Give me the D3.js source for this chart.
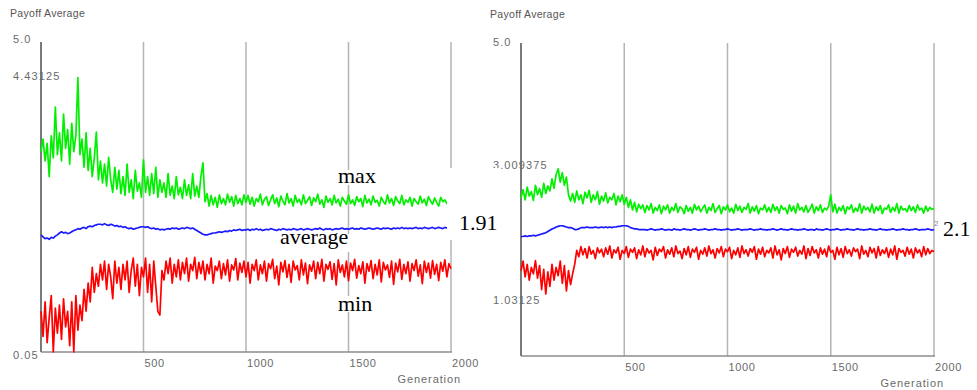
<!DOCTYPE html>
<html>
<head>
<meta charset="utf-8">
<script src="https://cdn.jsdelivr.net/npm/d3@7"></script>
<style>
  body { margin: 0; background: #fff; }
  svg { display: block; }
</style>
</head>
<body>
<svg id="chart" width="977" height="390"></svg>
<script>
// generations 0..2000, one sample every 10
const generations = d3.range(0, 2001, 10);
const xTicks = [500, 1000, 1500, 2000];

// left run
const leftMax = [
  3.25, 3.45, 3.10, 3.38, 2.85, 3.50, 3.15, 3.96, 3.20, 3.55,
  3.10, 3.85, 3.30, 3.60, 3.05, 3.70, 3.25, 3.50, 4.43, 3.20,
  3.45, 3.00, 3.55, 2.95, 3.30, 2.85, 3.15, 3.56, 2.80, 3.10,
  2.75, 3.05, 2.70, 3.16, 2.80, 2.60, 3.00, 2.65, 2.95, 2.58,
  2.85, 2.55, 3.05, 2.60, 2.80, 2.50, 2.95, 2.62, 2.75, 2.52,
  3.12, 2.60, 2.85, 2.55, 2.90, 2.58, 3.00, 2.52, 2.80, 2.60,
  2.75, 2.52, 2.90, 2.55, 2.70, 2.50, 2.85, 2.56, 2.68, 2.50,
  2.80, 2.55, 2.72, 2.50, 2.90, 2.54, 2.70, 2.52, 2.85, 3.07,
  2.45, 2.58, 2.38, 2.55, 2.40, 2.52, 2.36, 2.56, 2.42, 2.50,
  2.40, 2.57, 2.44, 2.53, 2.38, 2.55, 2.42, 2.50, 2.40, 2.56,
  2.44, 2.55, 2.41, 2.52, 2.38, 2.50, 2.45, 2.57, 2.40, 2.49,
  2.53, 2.39, 2.48, 2.56, 2.42, 2.51, 2.37, 2.54, 2.46, 2.40,
  2.58, 2.43, 2.50, 2.38, 2.55, 2.44, 2.49, 2.40, 2.56, 2.42,
  2.47, 2.53, 2.39, 2.51, 2.45, 2.57, 2.41, 2.48, 2.36, 2.54,
  2.44, 2.50, 2.40, 2.55, 2.43, 2.49, 2.38, 2.52, 2.46, 2.41,
  2.56, 2.42, 2.48, 2.39, 2.53, 2.45, 2.50, 2.37, 2.55, 2.43,
  2.49, 2.40, 2.54, 2.44, 2.47, 2.38, 2.52, 2.45, 2.41, 2.56,
  2.43, 2.50, 2.39, 2.53, 2.46, 2.42, 2.55, 2.40, 2.48, 2.44,
  2.52, 2.38, 2.50, 2.45, 2.41, 2.54, 2.43, 2.49, 2.39, 2.53,
  2.46, 2.41, 2.51, 2.44, 2.38, 2.52, 2.45, 2.48, 2.42, 2.50,
  2.46
];
const leftAvg = [
  1.92, 1.89, 1.86, 1.87, 1.85, 1.88, 1.87, 1.90, 1.92, 1.95,
  1.97, 1.95, 1.96, 1.94, 1.95, 1.97, 1.99, 2.00, 2.02, 2.01,
  2.03, 2.04, 2.02, 2.05, 2.06, 2.05, 2.07, 2.08, 2.09, 2.09,
  2.08, 2.10, 2.08, 2.07, 2.09, 2.08, 2.06, 2.07, 2.05, 2.06,
  2.04, 2.05, 2.03, 2.02, 2.03, 2.01, 2.02, 2.03, 2.04, 2.05,
  2.05, 2.04, 2.05, 2.03, 2.02, 2.03, 2.01, 2.02, 2.00, 2.01,
  2.00, 2.01, 2.02, 2.01, 2.03, 2.02, 2.03, 2.01, 2.02, 2.03,
  2.02, 2.04, 2.03, 2.02, 2.03, 2.01, 1.99, 1.97, 1.95, 1.93,
  1.92, 1.92, 1.93, 1.94, 1.95, 1.95, 1.96, 1.97, 1.96, 1.97,
  1.98, 1.97, 1.99, 1.98, 2.00, 1.99, 2.00, 2.01, 1.99, 2.00,
  2.00, 2.01, 1.99, 2.01, 2.00, 2.02, 2.00, 2.01, 1.99, 2.00,
  2.01, 2.00, 2.02, 2.01, 2.00, 1.99, 2.01, 2.00, 2.02, 2.01,
  2.00, 2.01, 2.00, 2.02, 2.01, 2.00, 2.01, 2.02, 2.00, 2.01,
  2.02, 2.01, 2.00, 2.01, 2.02, 2.01, 2.03, 2.01, 2.00, 2.02,
  2.01, 2.02, 2.00, 2.01, 2.02, 2.01, 2.02, 2.03, 2.01, 2.02,
  2.01, 2.02, 2.03, 2.01, 2.02, 2.01, 2.03, 2.02, 2.01, 2.02,
  2.03, 2.02, 2.01, 2.02, 2.03, 2.02, 2.01, 2.03, 2.02, 2.03,
  2.02, 2.01, 2.03, 2.02, 2.03, 2.02, 2.04, 2.02, 2.03, 2.02,
  2.03, 2.02, 2.03, 2.04, 2.02, 2.03, 2.02, 2.04, 2.03, 2.02,
  2.03, 2.04, 2.02, 2.03, 2.04, 2.03, 2.02, 2.04, 2.03, 2.04,
  2.03
];
const leftMin = [
  0.70, 0.30, 0.85, 0.20, 0.60, 0.95, 0.05, 0.75, 0.35, 0.80,
  0.25, 0.90, 0.45, 0.70, 0.15, 0.85, 0.05, 0.95, 0.40, 0.80,
  0.55, 1.05, 0.70, 1.15, 0.85, 1.40, 1.00, 1.30, 1.10, 1.45,
  1.20, 1.50, 1.05, 1.45, 1.25, 0.90, 1.50, 1.15, 1.40, 1.05,
  1.45, 1.20, 1.50, 1.00, 1.35, 1.55, 1.10, 1.45, 0.95, 1.40,
  1.25, 1.55, 1.00, 1.45, 0.85, 1.50, 1.10, 0.70, 0.64, 1.35,
  1.20, 1.50, 1.30, 1.55, 1.15, 1.45, 1.25, 1.52, 1.20, 1.48,
  1.30, 1.55, 1.18, 1.45, 1.35, 1.56, 1.22, 1.48, 1.30, 1.50,
  1.20, 1.45, 1.30, 1.55, 1.15, 1.42, 1.35, 1.50, 1.22, 1.46,
  1.28, 1.52, 1.18, 1.44, 1.36, 1.54, 1.20, 1.47, 1.32, 1.50,
  1.25, 1.48, 1.15, 1.45, 1.35, 1.52, 1.20, 1.44, 1.30, 1.50,
  1.18, 1.46, 1.38, 1.53, 1.22, 1.42, 1.12, 1.48, 1.33, 1.51,
  1.24, 1.45, 1.16, 1.50, 1.36, 1.43, 1.20, 1.52, 1.28, 1.47,
  1.14, 1.44, 1.34, 1.50, 1.22, 1.48, 1.30, 1.53, 1.18, 1.45,
  1.37, 1.49, 1.21, 1.46, 1.12, 1.52, 1.32, 1.44, 1.25, 1.50,
  1.19, 1.47, 1.35, 1.53, 1.23, 1.43, 1.30, 1.49, 1.15, 1.46,
  1.34, 1.51, 1.22, 1.45, 1.28, 1.52, 1.17, 1.48, 1.36, 1.44,
  1.24, 1.50, 1.13, 1.47, 1.33, 1.53, 1.21, 1.45, 1.30, 1.49,
  1.18, 1.46, 1.35, 1.52, 1.26, 1.44, 1.14, 1.50, 1.32, 1.47,
  1.23, 1.51, 1.29, 1.45, 1.19, 1.48, 1.34, 1.52, 1.25, 1.46,
  1.38
];

// right run
const rightMax = [
  2.55, 2.68, 2.52, 2.72, 2.58, 2.65, 2.51, 2.75, 2.60, 2.70,
  2.56, 2.78, 2.62, 2.74, 2.66, 2.85, 2.70, 2.92, 3.01, 2.80,
  2.95, 2.75, 2.88, 2.60, 2.50, 2.62, 2.48, 2.66, 2.52, 2.60,
  2.46, 2.64, 2.55, 2.67, 2.48, 2.60, 2.52, 2.65, 2.45, 2.58,
  2.50, 2.63, 2.47, 2.56, 2.52, 2.62, 2.44, 2.58, 2.49, 2.60,
  2.45, 2.56, 2.40, 2.52, 2.36, 2.48, 2.33, 2.45, 2.38, 2.44,
  2.32, 2.43, 2.36, 2.46, 2.31, 2.40, 2.35, 2.44, 2.30, 2.42,
  2.36, 2.44, 2.31, 2.40, 2.35, 2.46, 2.32, 2.41, 2.38, 2.30,
  2.43, 2.34, 2.40, 2.31, 2.45, 2.36, 2.42, 2.33, 2.39, 2.44,
  2.31, 2.40, 2.35, 2.46, 2.32, 2.38, 2.43, 2.30, 2.41, 2.36,
  2.44, 2.33, 2.39, 2.31, 2.45, 2.35, 2.42, 2.32, 2.40, 2.37,
  2.46, 2.31, 2.41, 2.34, 2.43, 2.30, 2.39, 2.36, 2.44, 2.33,
  2.40, 2.32, 2.45, 2.35, 2.41, 2.31, 2.43, 2.37, 2.39, 2.30,
  2.44, 2.34, 2.42, 2.31, 2.46, 2.36, 2.40, 2.33, 2.43, 2.32,
  2.38, 2.45, 2.31, 2.41, 2.35, 2.44, 2.32, 2.39, 2.36, 2.42,
  2.60, 2.33, 2.45, 2.31, 2.40, 2.35, 2.43, 2.30, 2.41, 2.37,
  2.44, 2.32, 2.39, 2.34, 2.46, 2.31, 2.42, 2.36, 2.40, 2.33,
  2.45, 2.31, 2.41, 2.35, 2.43, 2.30, 2.39, 2.37, 2.44, 2.32,
  2.40, 2.34, 2.46, 2.31, 2.42, 2.36, 2.38, 2.33, 2.43, 2.35,
  2.41, 2.32, 2.44, 2.36, 2.39, 2.31, 2.42, 2.34, 2.40, 2.37,
  2.38
];
const rightAvg = [
  1.94, 1.94, 1.95, 1.94, 1.95, 1.95, 1.96, 1.95, 1.96, 1.97,
  1.98, 1.99, 2.00, 2.02, 2.04, 2.06, 2.07, 2.09, 2.10, 2.11,
  2.11, 2.10, 2.09, 2.08, 2.08, 2.07, 2.05, 2.05, 2.06, 2.08,
  2.08, 2.08, 2.09, 2.08, 2.08, 2.08, 2.09, 2.08, 2.08, 2.09,
  2.08, 2.09, 2.08, 2.09, 2.08, 2.09, 2.09, 2.10, 2.10, 2.11,
  2.11, 2.11, 2.10, 2.08, 2.07, 2.06, 2.06, 2.05, 2.05, 2.05,
  2.05, 2.04, 2.05, 2.06, 2.05, 2.04, 2.05, 2.05, 2.06, 2.05,
  2.04, 2.05, 2.05, 2.04, 2.06, 2.05, 2.05, 2.04, 2.05, 2.06,
  2.05, 2.05, 2.04, 2.05, 2.06, 2.05, 2.04, 2.05, 2.05, 2.06,
  2.05, 2.04, 2.05, 2.05, 2.06, 2.05, 2.05, 2.04, 2.05, 2.05,
  2.06, 2.05, 2.04, 2.05, 2.05, 2.06, 2.05, 2.04, 2.05, 2.05,
  2.05, 2.06, 2.05, 2.04, 2.05, 2.05, 2.06, 2.05, 2.05, 2.04,
  2.05, 2.05, 2.06, 2.05, 2.04, 2.05, 2.06, 2.05, 2.05, 2.04,
  2.05, 2.06, 2.05, 2.05, 2.04, 2.05, 2.05, 2.06, 2.05, 2.04,
  2.05, 2.05, 2.04, 2.06, 2.05, 2.05, 2.04, 2.05, 2.06, 2.05,
  2.04, 2.05, 2.05, 2.06, 2.05, 2.04, 2.05, 2.05, 2.06, 2.05,
  2.05, 2.04, 2.05, 2.06, 2.05, 2.05, 2.04, 2.05, 2.05, 2.06,
  2.05, 2.05, 2.04, 2.05, 2.06, 2.05, 2.05, 2.04, 2.05, 2.05,
  2.06, 2.05, 2.04, 2.05, 2.05, 2.06, 2.05, 2.05, 2.04, 2.05,
  2.05, 2.06, 2.05, 2.04, 2.05, 2.05, 2.05, 2.06, 2.05, 2.04,
  2.05
];
const rightMin = [
  1.40, 1.55, 1.30, 1.50, 1.25, 1.45, 1.35, 1.56, 1.28, 1.48,
  1.10, 1.42, 1.03, 1.38, 1.15, 1.50, 1.25, 1.45, 1.32, 1.55,
  1.20, 1.48, 1.08, 1.40, 1.18, 1.35, 1.50, 1.72, 1.62, 1.78,
  1.65, 1.75, 1.60, 1.78, 1.66, 1.72, 1.59, 1.76, 1.68, 1.74,
  1.62, 1.76, 1.66, 1.79, 1.60, 1.73, 1.68, 1.77, 1.58, 1.72,
  1.67, 1.78, 1.61, 1.74, 1.69, 1.76, 1.59, 1.73, 1.65, 1.79,
  1.62, 1.75, 1.68, 1.72, 1.57, 1.77, 1.64, 1.74, 1.70, 1.78,
  1.60, 1.73, 1.66, 1.76, 1.62, 1.79, 1.67, 1.71, 1.59, 1.75,
  1.65, 1.78, 1.61, 1.74, 1.69, 1.77, 1.58, 1.72, 1.66, 1.76,
  1.63, 1.79, 1.67, 1.73, 1.60, 1.75, 1.68, 1.78, 1.62, 1.74,
  1.70, 1.77, 1.59, 1.72, 1.65, 1.76, 1.61, 1.79, 1.67, 1.73,
  1.63, 1.75, 1.69, 1.78, 1.58, 1.74, 1.66, 1.77, 1.62, 1.72,
  1.68, 1.76, 1.60, 1.79, 1.65, 1.73, 1.57, 1.75, 1.67, 1.78,
  1.61, 1.74, 1.69, 1.77, 1.63, 1.72, 1.66, 1.79, 1.59, 1.75,
  1.64, 1.78, 1.68, 1.73, 1.60, 1.76, 1.66, 1.74, 1.62, 1.79,
  1.69, 1.72, 1.58, 1.77, 1.65, 1.75, 1.61, 1.78, 1.67, 1.73,
  1.63, 1.76, 1.70, 1.74, 1.59, 1.79, 1.66, 1.72, 1.62, 1.77,
  1.68, 1.75, 1.60, 1.78, 1.64, 1.73, 1.67, 1.76, 1.61, 1.74,
  1.65, 1.79, 1.58, 1.75, 1.69, 1.72, 1.63, 1.77, 1.66, 1.74,
  1.60, 1.76, 1.68, 1.73, 1.62, 1.78, 1.65, 1.75, 1.67, 1.72,
  1.70
];

// y-axis labels (top, observed max, bottom / observed min)
const leftYLabels = ['5.0', '4.43125', '0.05'];
const leftYValues = [5.0, 4.43125, 0.05];
const rightYLabels = ['5.0', '3.009375', '1.03125'];
const rightYValues = [5.0, 3.009375, 1.03125];

const seriesColors = ['#00f000', '#1a1aff', '#ff0000'];

[leftMax, leftAvg, leftMin, rightMax, rightAvg, rightMin].forEach(s => {
  if (s.length !== generations.length) throw new Error('bad series length ' + s.length);
});

const panels = [
  { x0: 41, x1: 451, top: 42, bottom: 352, series: [leftMax, leftAvg, leftMin],
    yLabels: leftYLabels, yValues: leftYValues, labelDy: [1, 2.5, 7] },
  { x0: 521, x1: 934, top: 43, bottom: 356, series: [rightMax, rightAvg, rightMin],
    yLabels: rightYLabels, yValues: rightYValues, labelDy: [2.5, 0.5, 10] }
];

const svg = d3.select('#chart');
const smallFont = "'Liberation Sans', Arial, sans-serif";

panels.forEach(p => {
  const x = d3.scaleLinear().domain([0, 2000]).range([p.x0, p.x1]);
  const y = d3.scaleLinear().domain([0.05, 5]).range([p.bottom, p.top]);
  const g = svg.append('g');

  // vertical grid
  g.selectAll('line.grid')
    .data(xTicks)
    .enter().append('line')
    .attr('class', 'grid')
    .attr('x1', d => x(d)).attr('x2', d => x(d))
    .attr('y1', p.top).attr('y2', p.bottom)
    .attr('stroke', '#b4b4b4')
    .attr('stroke-width', 1.5);

  // axes
  g.append('line')
    .attr('x1', p.x0).attr('x2', p.x0)
    .attr('y1', p.top).attr('y2', p.bottom)
    .attr('stroke', '#7a7a7a').attr('stroke-width', 2);
  g.append('line')
    .attr('x1', p.x0).attr('x2', p.x1 + 1)
    .attr('y1', p.bottom).attr('y2', p.bottom)
    .attr('stroke', '#8c8c8c').attr('stroke-width', 1.5);

  // series
  const line = d3.line()
    .x((d, i) => x(generations[i]))
    .y(d => y(d));
  p.series.forEach((s, k) => {
    g.append('path')
      .datum(s)
      .attr('d', line)
      .attr('fill', 'none')
      .attr('stroke', seriesColors[k])
      .attr('stroke-width', k === 1 ? 1.7 : 1.7)
      .attr('stroke-linejoin', 'round');
  });

  // x tick labels
  g.selectAll('text.xt')
    .data(xTicks)
    .enter().append('text')
    .attr('class', 'xt')
    .attr('x', d => x(d) + 1)
    .attr('y', p.bottom + 15)
    .attr('font-family', smallFont)
    .attr('font-size', 11)
    .attr('letter-spacing', 0.6)
    .attr('fill', '#6a6a6a')
    .text(d => d);

  g.append('text')
    .attr('x', p.x1 + 10)
    .attr('y', p.bottom + 31)
    .attr('text-anchor', 'end')
    .attr('font-family', smallFont)
    .attr('font-size', 11)
    .attr('letter-spacing', 0.9)
    .attr('fill', '#6a6a6a')
    .text('Generation');

  g.append('text')
    .attr('x', p.x0 - 31)
    .attr('y', p.top - 25.5)
    .attr('font-family', smallFont)
    .attr('font-size', 10.5)
    .attr('letter-spacing', 0.3)
    .attr('fill', '#555')
    .text('Payoff Average');

  // y labels
  g.selectAll('text.yl')
    .data(p.yLabels)
    .enter().append('text')
    .attr('class', 'yl')
    .attr('x', p.x0 - 28)
    .attr('y', (d, i) => y(p.yValues[i]) + p.labelDy[i])
    .attr('font-family', smallFont)
    .attr('font-size', 11)
    .attr('letter-spacing', 1.1)
    .attr('fill', '#6a6a6a')
    .text(d => d);
});

// handwritten-style annotations, with their white paper behind them
const notes = [
  { text: 'max', x: 338, y: 183, box: [336, 170, 42, 15] },
  { text: 'average', x: 280, y: 244, box: [278, 234, 74, 18] },
  { text: 'min', x: 338, y: 311, box: [336, 296, 42, 16] },
  { text: '1.91', x: 459, y: 230, box: [447, 168, 54, 72] },
  { text: '2.1', x: 943, y: 236, box: [941, 219, 36, 19] }
];
svg.selectAll('rect.note')
  .data(notes)
  .enter().append('rect')
  .attr('class', 'note')
  .attr('x', d => d.box[0]).attr('y', d => d.box[1])
  .attr('width', d => d.box[2]).attr('height', d => d.box[3])
  .attr('fill', '#fff');
svg.selectAll('text.note')
  .data(notes)
  .enter().append('text')
  .attr('class', 'note')
  .attr('x', d => d.x).attr('y', d => d.y)
  .attr('font-family', "'Liberation Serif', 'Times New Roman', serif")
  .attr('font-size', 22)
  .attr('fill', '#000')
  .text(d => d.text);

// stray bit of the original tool's label peeking out beside "2.1"
svg.append('text')
  .attr('x', 934).attr('y', 226)
  .attr('font-family', smallFont)
  .attr('font-size', 8)
  .attr('fill', '#888')
  .text('2');
</script>
</body>
</html>
